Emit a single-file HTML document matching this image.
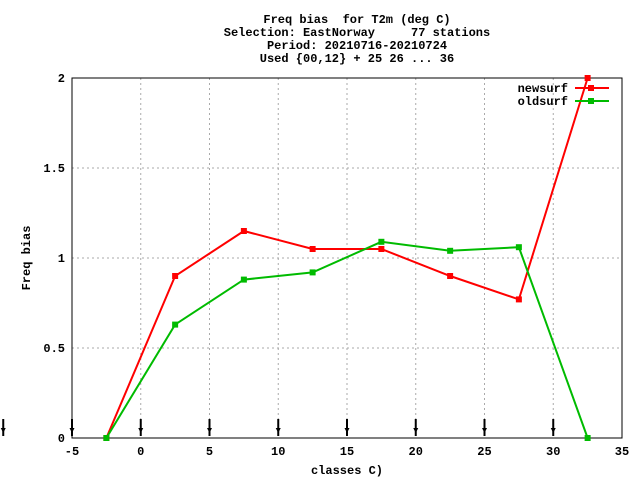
<!DOCTYPE html>
<html><head><meta charset="utf-8"><style>
body{margin:0;background:#fff}
svg text{font-family:"Liberation Mono","DejaVu Sans Mono",monospace;font-size:12px;font-weight:bold;fill:#000;white-space:pre}
</style></head><body>
<svg id="c" width="640" height="480">
<g>
<text x="357" y="23" text-anchor="middle">Freq bias  for T2m (deg C)</text>
<text x="357" y="36" text-anchor="middle">Selection: EastNorway     77 stations</text>
<text x="357" y="49" text-anchor="middle">Period: 20210716-20210724</text>
<text x="357" y="62" text-anchor="middle">Used {00,12} + 25 26 ... 36</text>
</g>
<g id="grid"></g>
<g id="axes"></g>
<g id="marks"></g>
<text x="30" y="258" text-anchor="middle" transform="rotate(-90 30 258)">Freq bias</text>
<text x="347" y="474" text-anchor="middle">classes C)</text>
<g>
<text x="568" y="92" text-anchor="end">newsurf</text>
<line x1="575" y1="88" x2="609" y2="88" stroke="#f00" stroke-width="2"/>
<rect x="588" y="85" width="6" height="6" fill="#f00"/>
<text x="568" y="105" text-anchor="end">oldsurf</text>
<line x1="575" y1="101" x2="609" y2="101" stroke="#0b0" stroke-width="2"/>
<rect x="588" y="98" width="6" height="6" fill="#0b0"/>
</g>
</svg>
<script>
const xVals=[-2.5,2.5,7.5,12.5,17.5,22.5,27.5,32.5];
const newsurf=[0,0.9,1.15,1.05,1.05,0.9,0.77,2.0];
const oldsurf=[0,0.63,0.88,0.92,1.09,1.04,1.06,0];
const xTicks=[-5,0,5,10,15,20,25,30,35];
const yTicks=[0,0.5,1,1.5,2];
const yTickLabels=["0","0.5","1","1.5","2"];
const arrowXs=[-10,-5,0,5,10,15,20,25,30];
const L=72,R=622,T=78,B=438;
const sx=v=>L+(v+5)/40*(R-L), sy=v=>B-v/2*(B-T);
const NS="http://www.w3.org/2000/svg";
function mk(p,tag,a){const e=document.createElementNS(NS,tag);for(const k in a)e.setAttribute(k,a[k]);p.appendChild(e);return e;}
const grid=document.getElementById('grid'),axes=document.getElementById('axes'),marks=document.getElementById('marks');
xTicks.forEach(v=>{const x=sx(v);
 if(v>-5&&v<35){const g=mk(grid,'line',{x1:x,y1:T,x2:x,y2:B,stroke:'#aaa','stroke-dasharray':'2,3'});
 
 }
 const t=mk(axes,'text',{x:x,y:B+17,'text-anchor':'middle','font-size':'13'});t.textContent=v;
 
 
});
yTicks.forEach((v,i)=>{const y=sy(v);
 if(v>0&&v<2){const g=mk(grid,'line',{x1:L,y1:y,x2:R,y2:y,stroke:'#aaa','stroke-dasharray':'2,3'});
 
 }
 const t=mk(axes,'text',{x:L-7,y:y+4,'text-anchor':'end','font-size':'13'});t.textContent=yTickLabels[i];
 
 
});
const fr=mk(axes,'rect',{x:L,y:T,width:R-L,height:B-T,fill:'none',stroke:'#000','stroke-width':1});


arrowXs.forEach(v=>{const x=Math.max(3,sx(v));
 const a=mk(axes,'line',{x1:x,y1:419,x2:x,y2:436,stroke:'#000','stroke-width':2});
 
 
 mk(axes,'polygon',{points:`${x-2.5},428 ${x+2.5},428 ${x},433`,fill:'#000'});
});
function series(vals,col,name){
 const pts=xVals.map((x,i)=>sx(x)+','+sy(vals[i])).join(' ');
 const pl=mk(marks,'polyline',{points:pts,fill:'none',stroke:col,'stroke-width':2});
 
 
 xVals.forEach((x,i)=>{const r=mk(marks,'rect',{x:sx(x)-3,y:sy(vals[i])-3,width:6,height:6,fill:col});
 
 });
}
series(newsurf,'#f00','newsurf');
series(oldsurf,'#0b0','oldsurf');
</script>
</body></html>
